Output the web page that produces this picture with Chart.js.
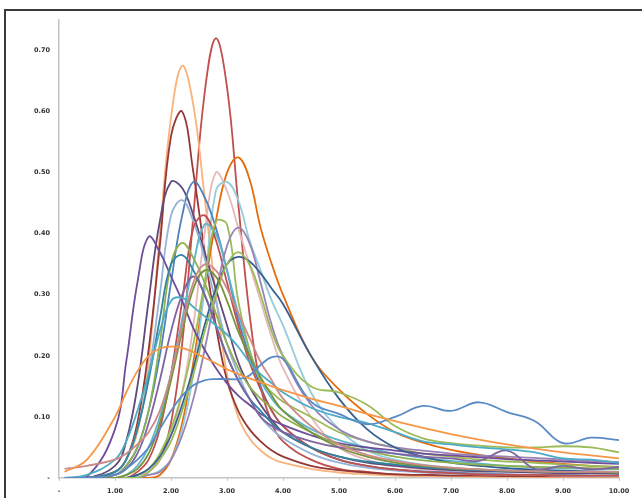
<!DOCTYPE html>
<html>
<head>
<meta charset="utf-8">
<script src="https://cdn.jsdelivr.net/npm/chart.js@4.4.0/dist/chart.umd.min.js"></script>
<style>
  html, body { margin: 0; padding: 0; background: #fff; }
  #wrap { position: relative; width: 642px; height: 498px; overflow: hidden; }
  #frame { position: absolute; left: 4px; top: 9px; width: 700px; height: 600px;
           border-left: 2px solid #3a3a3a; border-top: 2px solid #3a3a3a; }
  canvas { position: absolute; left: 0; top: 0; }
</style>
</head>
<body>
<div id="wrap">
  <div id="frame"></div>
  <canvas id="myChart" width="642" height="498"></canvas>
</div>
<script>
// x positions shared by every curve
const xs = [0.1, 0.5, 1.0, 1.2, 1.4, 1.6, 1.8, 2.0, 2.2, 2.4, 2.6, 2.8, 3.0, 3.2, 3.4, 3.6, 3.8, 4.0, 4.5, 5.0, 5.5, 6.0, 6.5, 7.0, 7.5, 8.0, 8.5, 9.0, 9.5, 10.0];

// curves
const redTall    = [0,0,0,0,0,0.01,0.03,0.09,0.22,0.43,0.63,0.72,0.64,0.45,0.27,0.15,0.09,0.06,0.03,0.015,0.01,0.006,0.005,0.004,0.003,0.003,0.002,0.002,0.002,0.002];
const peach      = [0,0,0.01,0.03,0.075,0.19,0.4,0.59,0.675,0.61,0.46,0.3,0.17,0.1,0.065,0.045,0.032,0.025,0.015,0.009,0.006,0.004,0.003,0.003,0.002,0.002,0.002,0.002,0.002,0.002];
const maroon     = [0,0,0.01,0.03,0.09,0.21,0.38,0.56,0.6,0.5,0.37,0.25,0.16,0.11,0.08,0.06,0.045,0.035,0.02,0.013,0.009,0.006,0.005,0.004,0.004,0.003,0.003,0.003,0.003,0.003];
const orange     = [0,0,0,0,0,0,0.005,0.03,0.09,0.19,0.31,0.42,0.5,0.525,0.49,0.41,0.35,0.3,0.2,0.145,0.105,0.075,0.058,0.046,0.038,0.032,0.027,0.023,0.02,0.018];
const palePink   = [0,0,0,0,0.005,0.01,0.03,0.07,0.14,0.25,0.4,0.5,0.47,0.41,0.35,0.29,0.23,0.18,0.1,0.05,0.03,0.02,0.014,0.01,0.008,0.006,0.005,0.004,0.004,0.003];
const lightAqua  = [0,0,0,0,0.002,0.005,0.012,0.03,0.08,0.17,0.31,0.47,0.485,0.455,0.39,0.34,0.29,0.25,0.14,0.08,0.045,0.03,0.022,0.017,0.014,0.012,0.01,0.009,0.008,0.007];
const darkPurple = [0,0,0.02,0.06,0.15,0.29,0.42,0.485,0.475,0.43,0.37,0.31,0.25,0.19,0.15,0.12,0.095,0.075,0.05,0.035,0.025,0.02,0.016,0.013,0.011,0.01,0.009,0.008,0.008,0.007];
const blue       = [0,0,0.005,0.02,0.05,0.11,0.2,0.32,0.43,0.485,0.46,0.41,0.34,0.26,0.2,0.15,0.11,0.085,0.05,0.03,0.02,0.014,0.011,0.009,0.007,0.006,0.005,0.005,0.004,0.004];
const lightBlue  = [0,0,0.01,0.03,0.08,0.17,0.3,0.43,0.455,0.42,0.36,0.29,0.22,0.17,0.13,0.1,0.08,0.065,0.04,0.025,0.017,0.012,0.009,0.007,0.006,0.005,0.005,0.004,0.004,0.004];
const green      = [0,0,0,0,0.005,0.015,0.04,0.08,0.14,0.22,0.32,0.42,0.415,0.29,0.21,0.16,0.14,0.125,0.1,0.075,0.06,0.05,0.04,0.035,0.03,0.027,0.025,0.022,0.02,0.018];
const purple     = [0,0,0,0,0,0.005,0.01,0.03,0.07,0.13,0.21,0.3,0.38,0.41,0.385,0.32,0.25,0.2,0.12,0.08,0.06,0.05,0.045,0.04,0.037,0.035,0.033,0.03,0.028,0.026];
const violet     = [0,0.002,0.08,0.19,0.32,0.395,0.37,0.33,0.29,0.245,0.21,0.18,0.155,0.135,0.12,0.105,0.095,0.087,0.07,0.057,0.05,0.045,0.04,0.037,0.034,0.031,0.029,0.027,0.025,0.023];
const darkGreen  = [0,0,0.005,0.02,0.05,0.11,0.22,0.35,0.385,0.36,0.32,0.27,0.22,0.18,0.15,0.13,0.115,0.1,0.075,0.055,0.045,0.035,0.029,0.025,0.022,0.02,0.018,0.017,0.016,0.015];
const teal       = [0,0,0.01,0.03,0.08,0.16,0.26,0.35,0.365,0.34,0.3,0.25,0.2,0.16,0.13,0.11,0.09,0.075,0.05,0.035,0.027,0.022,0.018,0.015,0.013,0.012,0.011,0.01,0.01,0.009];
const navy       = [0,0,0,0,0.005,0.015,0.035,0.07,0.12,0.18,0.25,0.31,0.35,0.362,0.355,0.335,0.31,0.285,0.2,0.13,0.08,0.05,0.035,0.025,0.02,0.016,0.014,0.012,0.011,0.01];
const cyan       = [0,0.005,0.03,0.06,0.11,0.17,0.24,0.29,0.295,0.28,0.265,0.25,0.235,0.215,0.19,0.17,0.155,0.14,0.115,0.1,0.09,0.075,0.06,0.055,0.05,0.047,0.042,0.032,0.03,0.025];
const wideOrange = [0.01,0.03,0.1,0.14,0.175,0.2,0.212,0.215,0.213,0.206,0.197,0.188,0.178,0.17,0.163,0.157,0.15,0.144,0.13,0.118,0.105,0.093,0.082,0.072,0.063,0.055,0.048,0.042,0.037,0.032];
const bumpyBlue  = [0,0,0.005,0.015,0.03,0.05,0.08,0.11,0.135,0.152,0.16,0.162,0.162,0.162,0.168,0.185,0.198,0.195,0.125,0.105,0.088,0.1,0.118,0.11,0.124,0.108,0.093,0.057,0.066,0.062];
const mauve      = [0.015,0.02,0.03,0.04,0.055,0.075,0.11,0.17,0.25,0.32,0.35,0.34,0.31,0.27,0.23,0.19,0.16,0.13,0.085,0.055,0.038,0.028,0.021,0.017,0.014,0.012,0.011,0.01,0.01,0.01];
const paleGreen  = [0,0,0,0,0,0.01,0.03,0.06,0.11,0.17,0.24,0.3,0.35,0.37,0.35,0.3,0.24,0.2,0.15,0.14,0.12,0.085,0.065,0.057,0.053,0.05,0.05,0.052,0.05,0.042];
const oliveGreen = [0,0,0,0.005,0.015,0.04,0.09,0.16,0.24,0.31,0.34,0.33,0.29,0.24,0.2,0.165,0.135,0.11,0.075,0.05,0.035,0.025,0.02,0.016,0.014,0.012,0.011,0.01,0.01,0.009];
const lilac      = [0,0,0.005,0.015,0.04,0.09,0.16,0.24,0.3,0.33,0.3,0.25,0.2,0.16,0.13,0.1,0.085,0.075,0.06,0.05,0.045,0.04,0.035,0.032,0.028,0.045,0.015,0.02,0.014,0.018];
const red        = [0,0,0,0,0.01,0.03,0.08,0.17,0.29,0.41,0.43,0.39,0.32,0.25,0.19,0.145,0.11,0.085,0.05,0.03,0.02,0.014,0.01,0.008,0.006,0.005,0.005,0.004,0.004,0.004];
const aqua       = [0,0,0,0.005,0.02,0.05,0.1,0.17,0.26,0.35,0.415,0.4,0.34,0.27,0.21,0.16,0.13,0.11,0.08,0.062,0.05,0.04,0.033,0.028,0.024,0.02,0.018,0.016,0.015,0.014];

const curves = [wideOrange, bumpyBlue, mauve, cyan, lilac, oliveGreen, paleGreen, teal, darkGreen, navy,
                violet, purple, green, aqua, red, lightBlue, blue, darkPurple, lightAqua, palePink,
                orange, maroon, peach, redTall];
const colors = ['#F79646', '#5B8BC6', '#CD8A88', '#4BACC6', '#8064A2', '#77933C', '#9BBB59', '#31859C', '#8FB050', '#376092',
                '#6E4E9A', '#9983B5', '#9BBB59', '#5DB5CC', '#C0504D', '#95B3D7', '#4F81BD', '#604A7B', '#93CDDD', '#E6B9B8',
                '#E46C0A', '#953735', '#F9B37C', '#C0504D'];

const fontTick = { size: 6.5, weight: 'bold', family: 'DejaVu Sans' };

const ctx = document.getElementById('myChart');

new Chart(ctx, {
  type: 'line',
  data: {
    datasets: curves.map((c, k) => ({
      data: xs.map((x, i) => ({ x: x, y: c[i] })),
      borderColor: colors[k],
      borderWidth: 1.8,
      pointRadius: 0,
      tension: 0.4,
      fill: false
    }))
  },
  options: {
    responsive: false,
    animation: false,
    layout: { padding: { left: 19, top: 20, right: 23, bottom: 0 } },
    plugins: {
      legend: { display: false },
      tooltip: { enabled: false }
    },
    scales: {
      x: {
        type: 'linear',
        min: 0,
        max: 10,
        afterFit: s => { s.height = 20; },
        border: { color: '#c4c4c4', width: 1.5 },
        grid: { drawOnChartArea: false, tickLength: 3, color: '#c4c4c4' },
        ticks: {
          stepSize: 1, padding: 6, maxRotation: 0, color: '#333', font: fontTick,
          callback: v => v === 0 ? '-' : v.toFixed(2)
        }
      },
      y: {
        min: 0,
        max: 0.75,
        afterFit: s => { s.width = 40; },
        afterBuildTicks: s => { s.ticks = s.ticks.filter(t => t.value < 0.72); },
        border: { color: '#c4c4c4', width: 1.5 },
        grid: { drawOnChartArea: false, drawTicks: false, color: '#c4c4c4' },
        ticks: {
          stepSize: 0.1, padding: 9, color: '#333', font: fontTick,
          callback: v => v === 0 ? '-' : v.toFixed(2)
        }
      }
    }
  }
});
</script>
</body>
</html>
